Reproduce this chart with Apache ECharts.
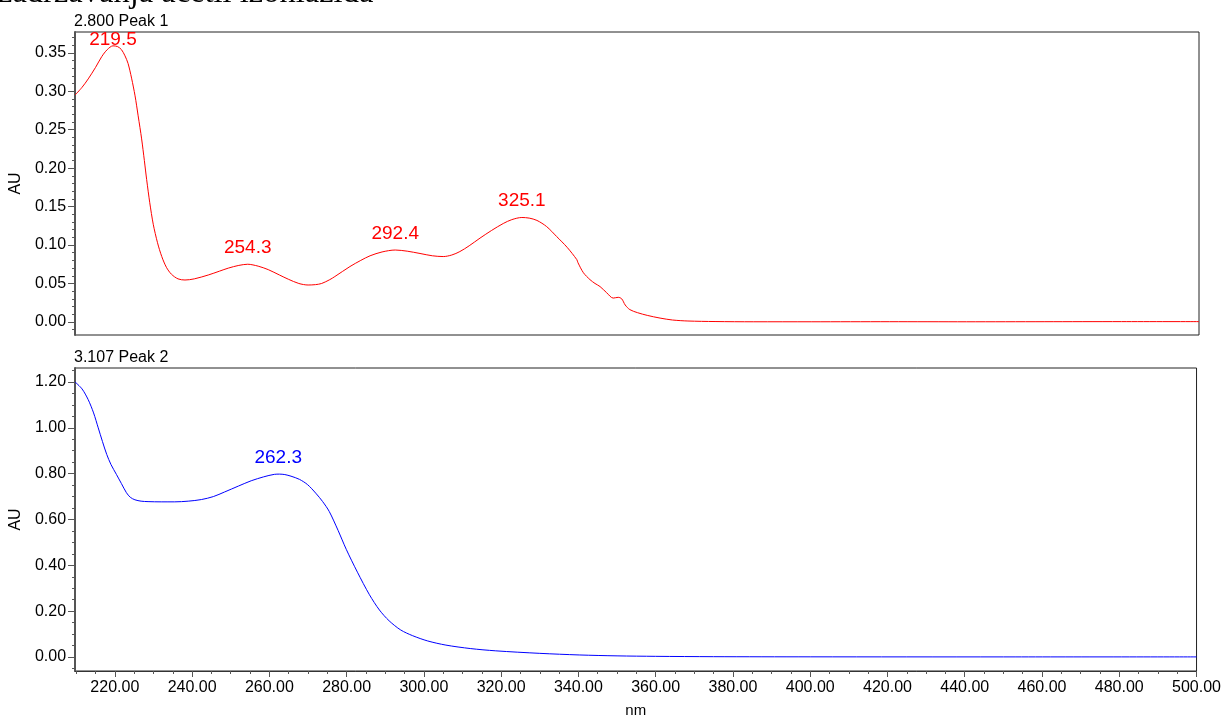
<!DOCTYPE html>
<html>
<head>
<meta charset="utf-8">
<script src="https://cdn.jsdelivr.net/npm/echarts@6/dist/echarts.min.js"></script>
<style>
  html, body { margin: 0; padding: 0; background: #fff; }
  #main { width: 1224px; height: 719px; }
</style>
</head>
<body>
<div id="main"></div>
<script>
// wavelength range shown on both panels
var xMin = 209.7, xMax = 500;
var xTicks = [220, 240, 260, 280, 300, 320, 340, 360, 380, 400, 420, 440, 460, 480, 500];

// Peak 1 (2.800 min)
var nm1 = [209.7, 211.5, 213.1, 215.0, 216.6, 218.0, 219.5, 220.7, 221.7, 222.6, 223.4, 224.3, 225.2, 226.0, 226.9,
    227.6, 228.2, 229.0, 229.9, 231.0, 232.1, 233.3, 234.6, 236.3, 238.1, 240.5, 244.1, 247.0, 249.3, 252.0,
    254.3, 257.0, 259.6, 262.5, 264.8, 267.5, 269.9, 271.8, 273.4, 275.5, 276.8, 280.7, 283.5, 285.9, 289.0,
    292.4, 295.5, 298.8, 302.0, 304.8, 307.0, 309.1, 311.5, 314.3, 317.3, 320.3, 322.5, 325.1, 327.0, 329.0,
    331.5, 334.1, 336.8, 339.3, 339.6, 341.0, 342.7, 344.0, 345.3, 347.0, 348.7, 350.0, 350.9, 351.8, 353.0,
    355.0, 357.5, 360.8, 364.0, 368.0, 375.0, 385.0, 400.0, 420.0, 440.0, 460.0, 480.0, 500.0];
var au1 = [0.295, 0.305, 0.316, 0.331, 0.345, 0.354, 0.359, 0.358, 0.354, 0.346, 0.336, 0.317, 0.294, 0.268, 0.238,
    0.210, 0.185, 0.155, 0.127, 0.103, 0.085, 0.071, 0.062, 0.056, 0.0545, 0.056, 0.061, 0.066, 0.070, 0.0735,
    0.075, 0.0725, 0.068, 0.061, 0.0555, 0.050, 0.048, 0.0485, 0.050, 0.055, 0.059, 0.072, 0.080, 0.086, 0.091,
    0.0935, 0.092, 0.089, 0.086, 0.085, 0.087, 0.0915, 0.099, 0.109, 0.119, 0.128, 0.133, 0.1358, 0.135, 0.132,
    0.124, 0.111, 0.097, 0.081, 0.077, 0.064, 0.055, 0.050, 0.046, 0.038, 0.031, 0.032, 0.030, 0.022, 0.016,
    0.012, 0.0085, 0.005, 0.0025, 0.0012, 0.0005, 0.0002, 0.0002, 0.0003, 0.0002, 0.0003, 0.0004, 0.0004];
var peaks1 = [[219.5, 0.359], [254.3, 0.075], [292.4, 0.0935], [325.1, 0.1358]];
var yTicks1 = [0, 0.05, 0.10, 0.15, 0.20, 0.25, 0.30, 0.35];

// Peak 2 (3.107 min)
var nm2 = [209.7, 211.5, 213.1, 214.5, 215.7, 216.8, 217.9, 219.0, 220.4, 221.7, 223.0, 224.0, 225.2, 226.8, 228.6,
    232.0, 235.5, 239.0, 242.4, 245.5, 248.4, 252.0, 255.3, 258.5, 261.3, 262.6, 264.0, 265.6, 267.8, 269.9,
    272.0, 273.8, 275.5, 277.8, 279.9, 282.8, 285.9, 288.5, 291.0, 294.0, 297.1, 301.0, 305.7, 312.0, 318.6,
    330.0, 340.2, 350.0, 360.0, 375.0, 400.0, 450.0, 500.0];
var au2 = [1.200, 1.170, 1.123, 1.065, 1.000, 0.940, 0.884, 0.840, 0.797, 0.757, 0.717, 0.697, 0.686, 0.680, 0.678,
    0.677, 0.677, 0.680, 0.687, 0.700, 0.720, 0.746, 0.769, 0.786, 0.797, 0.798, 0.796, 0.789, 0.775, 0.752,
    0.715, 0.678, 0.635, 0.552, 0.470, 0.370, 0.272, 0.205, 0.158, 0.118, 0.093, 0.070, 0.052, 0.037, 0.027,
    0.016, 0.009, 0.005, 0.003, 0.0015, 0.0008, 0.0005, 0.0005];
var peaks2 = [[262.3, 0.798]];
var yTicks2 = [0, 0.20, 0.40, 0.60, 0.80, 1.00, 1.20];

var y1Min = -0.017, y1Max = 0.377;
var y2Min = -0.061, y2Max = 1.261;

function pairs(xs, ys) {
    var out = [];
    for (var i = 0; i < xs.length; i++) out.push([xs[i], ys[i]]);
    return out;
}
// minor tick positions between min and max with given step
function steps(min, max, step) {
    var out = [];
    var v = Math.ceil(min / step - 1e-9) * step;
    for (; v <= max + 1e-9; v += step) out.push(Math.round(v * 1000) / 1000);
    return out;
}

var font = 'Liberation Sans, Arial, sans-serif';
var axisColor = '#555';

function majorY(grid, min, max, ticks) {
    return {
        type: 'value', gridIndex: grid, position: 'left', min: min, max: max,
        name: 'AU', nameLocation: 'middle', nameGap: 48,
        nameTextStyle: { fontFamily: font, fontSize: 16, color: '#000' },
        axisLine: { show: true, onZero: false, lineStyle: { color: axisColor, width: 2 } },
        axisTick: { show: true, customValues: ticks, length: 7, lineStyle: { color: axisColor } },
        axisLabel: { customValues: ticks, margin: 9, fontFamily: font, fontSize: 16, color: '#000',
            formatter: function (v) { return v.toFixed(2); } },
        splitLine: { show: false }
    };
}
function minorY(grid, min, max, step) {
    return {
        type: 'value', gridIndex: grid, position: 'left', min: min, max: max,
        axisLine: { show: false, onZero: false },
        axisTick: { show: true, customValues: steps(min, max, step), length: 3, lineStyle: { color: axisColor } },
        axisLabel: { show: false }, splitLine: { show: false }
    };
}

function peakMarks(peaks, color, top) {
    return {
        symbol: 'circle', symbolSize: 0,
        data: peaks.map(function (p) {
            var d = p[1] > top ? -3 : 7;
            return {
                coord: p,
                label: { show: true, position: 'top', distance: d, formatter: p[0].toFixed(1),
                    color: color, fontFamily: font, fontSize: 19 }
            };
        })
    };
}

var myChart = echarts.init(document.getElementById('main'));
var option = {
    animation: false,
    backgroundColor: '#fff',
    title: [
        { text: 'zadržavanja acetil izoniazida', left: -2, top: -23, padding: 0,
          textStyle: { fontFamily: 'Liberation Serif, Times New Roman, serif', fontWeight: 'normal', fontSize: 32.5, color: '#000' } },
        { text: '2.800 Peak 1', left: 74, top: 14, padding: 0,
          textStyle: { fontFamily: font, fontWeight: 'normal', fontSize: 16, color: '#000' } },
        { text: '3.107 Peak 2', left: 74, top: 350, padding: 0,
          textStyle: { fontFamily: font, fontWeight: 'normal', fontSize: 16, color: '#000' } }
    ],
    grid: [
        { left: 75, top: 32, width: 1124, height: 303, show: true, borderColor: '#222', borderWidth: 1 },
        { left: 75, top: 368, width: 1124, height: 304, show: true, borderColor: '#222', borderWidth: 1 }
    ],
    xAxis: [
        { type: 'value', gridIndex: 0, min: xMin, max: xMax,
          axisLine: { show: false, onZero: false }, axisTick: { show: false },
          axisLabel: { show: false }, splitLine: { show: false } },
        { type: 'value', gridIndex: 1, position: 'bottom', min: xMin, max: xMax,
          name: 'nm', nameLocation: 'middle', nameGap: 32,
          nameTextStyle: { fontFamily: font, fontSize: 15, color: '#000' },
          axisLine: { show: true, onZero: false, lineStyle: { color: '#333', width: 1 } },
          axisTick: { show: true, customValues: xTicks, length: 6, lineStyle: { color: axisColor } },
          axisLabel: { customValues: xTicks, margin: 9, fontFamily: font, fontSize: 16, color: '#000',
              formatter: function (v) { return v.toFixed(2); } },
          splitLine: { show: false } },
        { type: 'value', gridIndex: 1, position: 'bottom', min: xMin, max: xMax,
          axisLine: { show: false, onZero: false },
          axisTick: { show: true, customValues: steps(xMin, xMax, 5), length: 3, lineStyle: { color: axisColor } },
          axisLabel: { show: false }, splitLine: { show: false } }
    ],
    yAxis: [
        majorY(0, y1Min, y1Max, yTicks1),
        minorY(0, y1Min, y1Max, 0.01),
        majorY(1, y2Min, y2Max, yTicks2),
        minorY(1, y2Min, y2Max, 0.05)
    ],
    series: [
        { name: 'Peak 1', type: 'line', xAxisIndex: 0, yAxisIndex: 0, data: pairs(nm1, au1),
          showSymbol: false, smooth: 0.3, lineStyle: { color: '#ff0000', width: 1 },
          markPoint: peakMarks(peaks1, '#ff0000', 0.34) },
        { name: 'Peak 2', type: 'line', xAxisIndex: 1, yAxisIndex: 2, data: pairs(nm2, au2),
          showSymbol: false, smooth: 0.3, lineStyle: { color: '#0000ff', width: 1 },
          markPoint: peakMarks(peaks2, '#0000ff', 1.3) }
    ]
};
myChart.setOption(option);
</script>
</body>
</html>
